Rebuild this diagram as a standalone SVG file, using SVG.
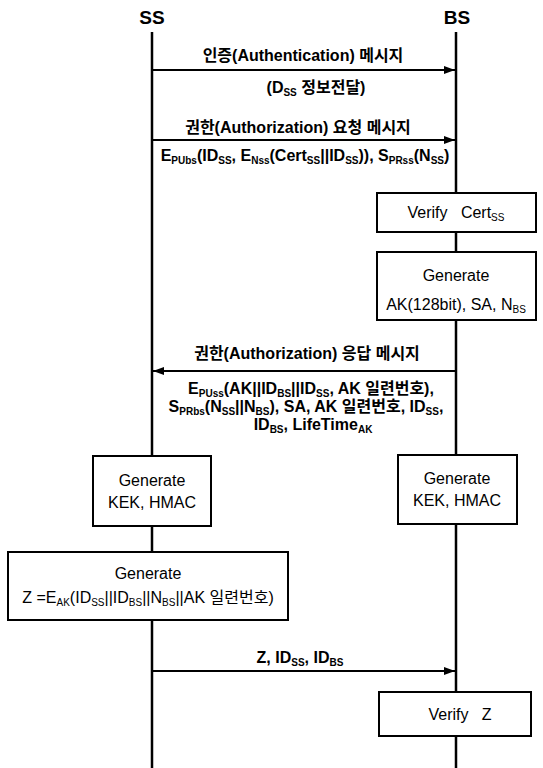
<svg xmlns="http://www.w3.org/2000/svg" width="543" height="768" viewBox="0 0 543 768">
<style>
text{font-family:"Liberation Sans","Noto Sans CJK KR",sans-serif;fill:#000}
.hd{font-size:19px;font-weight:bold;text-anchor:middle}
.m{font-size:16px;font-weight:bold;text-anchor:middle}
.b{font-size:16px;text-anchor:middle}
.s{font-size:10px;baseline-shift:-3px}
.life{stroke:#000;stroke-width:2.5;fill:none}
.msg{stroke:#000;stroke-width:2;fill:none;marker-end:url(#ah)}
.box rect{fill:#fff;stroke:#000;stroke-width:2}
</style>
<defs>
<marker id="ah" markerUnits="userSpaceOnUse" markerWidth="11" markerHeight="8" refX="11" refY="4" orient="auto">
<path d="M0,0 L11,4 L0,8 z" fill="#000"/>
</marker>
</defs>
<g id="SS">
<text class="hd" x="152" y="24">SS</text>
<line class="life" x1="152" y1="32" x2="152" y2="768"/>
</g>
<g id="BS">
<text class="hd" x="457" y="24">BS</text>
<line class="life" x1="456" y1="32" x2="456" y2="768"/>
</g>
<g id="connectors">
<line class="msg" x1="153" y1="70" x2="455" y2="70"/>
<line class="msg" x1="153" y1="140" x2="455" y2="140"/>
<line class="msg" x1="455" y1="371" x2="153" y2="371"/>
<line class="msg" x1="153" y1="671" x2="455" y2="671"/>
</g>
<g id="msg1">
<text class="m" x="303" y="61">인증(Authentication) 메시지</text>
<text class="m" x="316" y="93">(D<tspan class="s">SS</tspan> 정보전달)</text>
</g>
<g id="msg2">
<text class="m" x="298" y="133">권한(Authorization) 요청 메시지</text>
<text class="m" x="305" y="161">E<tspan class="s">PUbs</tspan>(ID<tspan class="s">SS</tspan>, E<tspan class="s">Nss</tspan>(Cert<tspan class="s">SS</tspan>||ID<tspan class="s">SS</tspan>)), S<tspan class="s">PRss</tspan>(N<tspan class="s">SS</tspan>)</text>
</g>
<g id="verifyCert" class="box">
<rect x="377" y="193" width="159" height="39"/>
<text class="b" x="456" y="218">Verify&#160;&#160;&#160;Cert<tspan class="s">SS</tspan></text>
</g>
<g id="generateAK" class="box">
<rect x="377" y="252" width="159" height="68"/>
<text class="b" x="456" y="281">Generate</text>
<text class="b" x="456" y="310">AK(128bit), SA, N<tspan class="s">BS</tspan></text>
</g>
<g id="msg3">
<text class="m" x="307" y="359">권한(Authorization) 응답 메시지</text>
<text class="m" x="311" y="394">E<tspan class="s">PUss</tspan>(AK||ID<tspan class="s">BS</tspan>||ID<tspan class="s">SS</tspan>, AK 일련번호),</text>
<text class="m" x="306" y="412">S<tspan class="s">PRbs</tspan>(N<tspan class="s">SS</tspan>||N<tspan class="s">BS</tspan>), SA, AK 일련번호, ID<tspan class="s">SS</tspan>,</text>
<text class="m" x="313" y="430">ID<tspan class="s">BS</tspan>, LifeTime<tspan class="s">AK</tspan></text>
</g>
<g id="kekSS" class="box">
<rect x="93" y="456" width="118" height="70"/>
<text class="b" x="152" y="486">Generate</text>
<text class="b" x="152" y="508">KEK, HMAC</text>
</g>
<g id="kekBS" class="box">
<rect x="398" y="455" width="119" height="69"/>
<text class="b" x="457" y="484">Generate</text>
<text class="b" x="457" y="506">KEK, HMAC</text>
</g>
<g id="generateZ" class="box">
<rect x="8" y="552" width="280" height="68"/>
<text class="b" x="148" y="579">Generate</text>
<text class="b" x="148" y="603">Z =E<tspan class="s">AK</tspan>(ID<tspan class="s">SS</tspan>||ID<tspan class="s">BS</tspan>||N<tspan class="s">BS</tspan>||AK 일련번호)</text>
</g>
<g id="msg4">
<text class="m" x="300" y="663">Z, ID<tspan class="s">SS</tspan>, ID<tspan class="s">BS</tspan></text>
</g>
<g id="verifyZ" class="box">
<rect x="379" y="692" width="152" height="44"/>
<text class="b" x="460" y="720">Verify&#160;&#160;&#160;Z</text>
</g>
</svg>
